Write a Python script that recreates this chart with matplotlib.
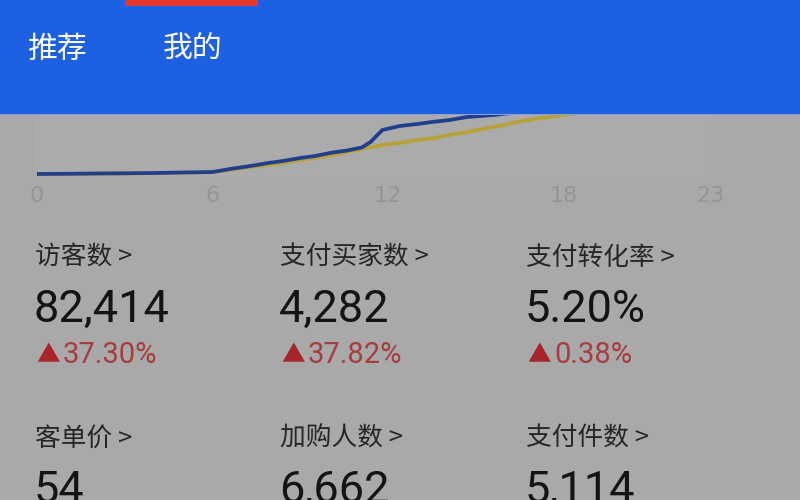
import matplotlib
matplotlib.use("Agg")
import matplotlib.pyplot as plt
from matplotlib.patches import Rectangle

plt.rcParams['font.family'] = ['Noto Sans CJK SC', 'DejaVu Sans']

# hourly cumulative curves (arbitrary units)
blue_hours = [0, 1, 2, 3, 4, 5, 6, 6.7, 7.3, 7.9, 8.4, 9.0, 9.5, 10.1, 10.6, 11.1,
              11.4, 11.8, 12.4, 13.0, 13.5, 14.1, 14.7, 15.6, 16.8]
blue_vals = [6, 6.2, 6.5, 6.7, 7, 7.5, 8, 11.5, 14, 17, 19, 22, 24, 27.5, 29.5, 32.5,
             38, 50, 54, 56, 58, 60, 63, 65, 69]
yellow_hours = [0, 1, 2, 3, 4, 5, 6, 6.7, 7.3, 7.9, 8.4, 9.0, 9.5, 10.1, 10.6, 11.1,
                11.8, 12.4, 13.0, 13.5, 14.1, 14.7, 15.2, 15.8, 16.4, 17.0, 17.5, 18.5]
yellow_vals = [5.8, 6.0, 6.3, 6.5, 6.8, 7.3, 7.8, 10.5, 13, 15, 17, 20, 22, 25, 28, 31,
               35, 37, 40, 41.5, 45, 48, 51, 54, 58, 61, 63, 67]
hour_ticks = [0, 6, 12, 18, 23]

tabs = ["推荐", "我的"]

metric_names = ["访客数 >", "支付买家数 >", "支付转化率 >", "客单价 >", "加购人数 >", "支付件数 >"]
metric_values = ["82,414", "4,282", "5.20%", "54", "6,662", "5,114"]
metric_changes = ["37.30%", "37.82%", "0.38%"]

W, H = 800, 500
BG = "#a9a9a9"
HEADER = "#1e60e2"
NUM_FONT = ["Roboto", "DejaVu Sans"]


def px(x, y):
    return x / W, 1 - y / H


fig = plt.figure(figsize=(8, 5), dpi=100)
fig.patch.set_facecolor(BG)

# faint lighter plot panel
fig.add_artist(Rectangle(px(37, 183), (710 - 37) / W, 68 / H, transform=fig.transFigure,
                         facecolor="#ababab", edgecolor="none", zorder=0))

# chart: 1 unit = 1 px vertically, axis bottom at y=180px
ax = fig.add_axes([37 / W, 1 - 180 / H, (710 - 37) / W, 80 / H])
ax.set_facecolor("none")
ax.plot(yellow_hours, yellow_vals, color="#b8a236", lw=2.7, solid_capstyle="round",
        solid_joinstyle="round", zorder=2)
ax.plot(blue_hours, blue_vals, color="#213e8c", lw=2.7, solid_capstyle="round",
        solid_joinstyle="round", zorder=3)
ax.set_xlim(0, 23)
ax.set_ylim(0, 80)
ax.set_xticks(hour_ticks)
ax.set_xticklabels([str(h) for h in hour_ticks])
ax.tick_params(axis="x", length=0, pad=4, labelsize=16, labelcolor="#949494")
for lab in ax.get_xticklabels():
    lab.set_family(["Liberation Sans Narrow", "DejaVu Sans"])
ax.set_yticks([])
for s in ax.spines.values():
    s.set_visible(False)

# blue header on top of the chart
hdr = fig.add_axes([0, 1 - 115 / H, 1, 115 / H], zorder=10)
hdr.set_facecolor(HEADER)
hdr.set_xlim(0, W)
hdr.set_ylim(115, 0)
hdr.axis("off")
hdr.add_patch(Rectangle((0, 0), W, 115, facecolor=HEADER, edgecolor="none"))
hdr.add_patch(Rectangle((125, 0), 133, 6, facecolor="#e2392c", edgecolor="none"))
hdr.axhline(114.5, color="#9fb0d0", lw=1.2)
for x, t in zip([28, 163], tabs):
    hdr.text(x, 49, t, color="white", fontsize=21.5, va="center", ha="left",
             fontweight="medium")

# metric cards
col_x = [35, 280, 526]
for i, name in enumerate(metric_names):
    row, col = divmod(i, 3)
    x = col_x[col]
    y0 = 265 if row == 0 else 446
    fig.text(*px(x, y0), name, fontsize=18.5, color="#262626", va="baseline", ha="left")
    fig.text(*px(x - 1, y0 + 57), metric_values[i], fontsize=32.5, color="#141414",
             va="baseline", ha="left", family=NUM_FONT)

for col, chg in enumerate(metric_changes):
    x = col_x[col]
    fig.text(*px(x + 1, 362), "▲", fontsize=17, color="#a8232a", va="baseline", ha="left")
    fig.text(*px(x + 28, 363), chg, fontsize=21, color="#a63c3e", va="baseline", ha="left",
             family=NUM_FONT)

fig.savefig("out.png", dpi=100, facecolor=BG)
